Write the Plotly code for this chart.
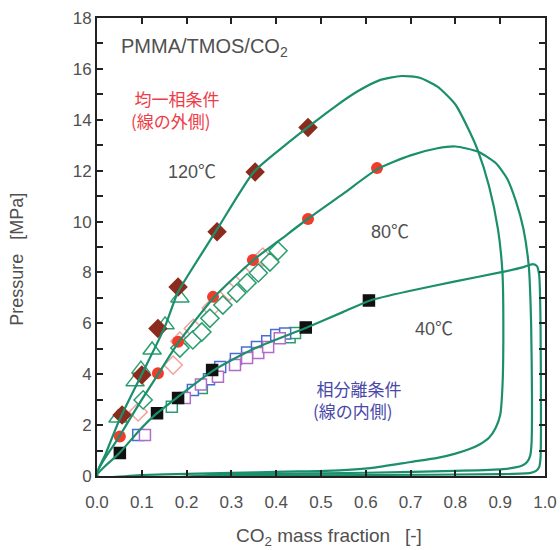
import plotly.graph_objects as go

# ---- model curves (closed loops) ----
c120_x = [0, 0.02, 0.05, 0.1, 0.15, 0.18, 0.2, 0.27, 0.35, 0.42, 0.47, 0.53, 0.58, 0.63, 0.68, 0.72, 0.76, 0.8, 0.83, 0.85, 0.875, 0.895, 0.905, 0.907, 0.905, 0.9, 0.89, 0.875, 0.855, 0.83, 0.8, 0.76, 0.7, 0.61, 0.51, 0.42, 0.3, 0.2, 0.1, 0]
c120_y = [0, 0.9, 2.2, 4.0, 5.8, 7.2, 7.8, 9.75, 11.95, 13.0, 13.7, 14.5, 15.1, 15.55, 15.72, 15.65, 15.3, 14.6, 13.6, 12.8, 11.4, 9.7, 8.0, 5.5, 3.5, 2.4, 1.9, 1.5, 1.25, 1.05, 0.88, 0.71, 0.55, 0.31, 0.2, 0.17, 0.12, 0.08, 0.04, 0]

c80_x = [0, 0.05, 0.1, 0.14, 0.18, 0.26, 0.35, 0.41, 0.47, 0.55, 0.625, 0.7, 0.76, 0.8, 0.85, 0.89, 0.915, 0.935, 0.952, 0.964, 0.969, 0.971, 0.97, 0.967, 0.96, 0.948, 0.906, 0.8, 0.705, 0.5, 0.3, 0]
c80_y = [0, 1.55, 3.0, 4.1, 5.2, 7.0, 8.5, 9.3, 10.1, 11.1, 12.05, 12.6, 12.88, 12.95, 12.75, 12.3, 11.7, 10.8, 9.7, 8.2, 6.0, 3.0, 1.3, 0.8, 0.55, 0.4, 0.27, 0.2, 0.16, 0.1, 0.07, 0]

c40_x = [0, 0.05, 0.1, 0.134, 0.18, 0.26, 0.35, 0.47, 0.55, 0.61, 0.7, 0.8, 0.9, 0.95, 0.973, 0.982, 0.987, 0.99, 0.991, 0.99, 0.987, 0.98, 0.968, 0.9, 0.6, 0.3, 0]
c40_y = [0, 0.9, 1.9, 2.47, 3.1, 4.15, 5.0, 5.85, 6.45, 6.9, 7.28, 7.65, 8.0, 8.2, 8.33, 8.25, 7.9, 6.0, 2.0, 0.7, 0.35, 0.2, 0.12, 0.07, 0.04, 0.02, 0]

# ---- experimental data ----
# 120 C
d120_dia_x = [0.056, 0.10, 0.136, 0.181, 0.268, 0.353, 0.471]
d120_dia_y = [2.4, 3.97, 5.8, 7.43, 9.6, 11.95, 13.7]
d120_tri_x = [0.047, 0.085, 0.098, 0.123, 0.152, 0.185]
d120_tri_y = [2.28, 3.7, 4.2, 4.95, 5.94, 7.0]

# 80 C
d80_cir_x = [0.051, 0.136, 0.181, 0.259, 0.348, 0.471, 0.625]
d80_cir_y = [1.55, 4.04, 5.28, 7.04, 8.49, 10.1, 12.1]
d80_pdia_x = [0.092, 0.17, 0.185, 0.215, 0.255, 0.295, 0.33, 0.37]
d80_pdia_y = [2.52, 4.36, 5.3, 5.8, 6.6, 7.25, 7.85, 8.6]
d80_gdia_x = [0.103, 0.185, 0.214, 0.234, 0.252, 0.281, 0.312, 0.335, 0.36, 0.386, 0.404]
d80_gdia_y = [2.99, 5.03, 5.35, 5.66, 6.2, 6.72, 7.19, 7.59, 7.98, 8.41, 8.85]

# 40 C
d40_blk_x = [0.051, 0.134, 0.181, 0.257, 0.466, 0.607]
d40_blk_y = [0.9, 2.47, 3.07, 4.17, 5.84, 6.9]
d40_blu_x = [0.092, 0.214, 0.25, 0.275, 0.31, 0.335, 0.357, 0.38, 0.40, 0.42]
d40_blu_y = [1.61, 3.38, 3.8, 4.28, 4.6, 4.85, 5.07, 5.3, 5.54, 5.6]
d40_pur_x = [0.107, 0.196, 0.232, 0.27, 0.308, 0.335, 0.36, 0.382, 0.408]
d40_pur_y = [1.61, 3.07, 3.6, 3.9, 4.36, 4.64, 4.83, 5.07, 5.41]
d40_grn_x = [0.167, 0.234, 0.43, 0.442]
d40_grn_y = [2.72, 3.46, 5.45, 5.62]

x_ticks = [0.0, 0.1, 0.2, 0.3, 0.4, 0.5, 0.6, 0.7, 0.8, 0.9, 1.0]
y_ticks = [0, 2, 4, 6, 8, 10, 12, 14, 16, 18]

GREEN = "#1b8f6c"
FONT = "Liberation Sans"
TXT = "#505050"
JFONT = "Noto Sans CJK JP"

fig = go.Figure()

def pts(x, y, symbol, size, fill, line_color, lw=1.5):
    fig.add_trace(go.Scatter(x=x, y=y, mode="markers",
                             marker=dict(symbol=symbol, size=size, color=fill,
                                         line=dict(color=line_color, width=lw)),
                             showlegend=False, hoverinfo="skip"))

# 40 C
pts(d40_grn_x, d40_grn_y, "square", 11, "white", "#2a9d6e")
pts(d40_blu_x, d40_blu_y, "square", 11, "white", "#4a6cd0")
pts(d40_pur_x, d40_pur_y, "square", 11, "white", "#b06cc8")
pts(d40_blk_x, d40_blk_y, "square", 11, "#111111", "#111111")
# 80 C
pts(d80_pdia_x, d80_pdia_y, "diamond", 14, "white", "#f4a19a")
pts(d80_gdia_x, d80_gdia_y, "diamond", 14, "white", "#2a9d6e")
pts(d80_cir_x, d80_cir_y, "circle", 12, "#f03c2c", "#f03c2c", 0)
# 120 C
pts(d120_tri_x, d120_tri_y, "triangle-up", 16, "white", "#2a9d6e")
pts(d120_dia_x, d120_dia_y, "diamond", 15, "#8b2b1e", "#8b2b1e", 0)

for cx, cy in [(c120_x, c120_y), (c80_x, c80_y), (c40_x, c40_y)]:
    fig.add_trace(go.Scatter(x=cx, y=cy, mode="lines",
                             line=dict(color=GREEN, width=2.2, shape="spline", smoothing=0.6),
                             showlegend=False, hoverinfo="skip"))

def txt(x, y, s, color=TXT, size=18, xanchor="center", family=FONT, align="center"):
    fig.add_annotation(x=x, y=y, text=s, showarrow=False, xanchor=xanchor, align=align,
                       font=dict(family=family + ", " + JFONT, size=size, color=color))

txt(0.05, 16.85, "PMMA/TMOS/CO<sub>2</sub>", xanchor="left", size=20)
txt(0.072, 14.4, "\u2009均一相条件<br>(線の外側)", color="#ee3c46", size=17,
    xanchor="left", family=JFONT, align="left")
txt(0.212, 11.95, "120℃")
txt(0.655, 9.6, "80℃")
txt(0.753, 5.78, "40℃")
txt(0.478, 3.0, "\u2009相分離条件<br>(線の内側)", color="#4848a8", size=17,
    xanchor="left", family=JFONT, align="left")

# axis titles
fig.add_annotation(xref="paper", yref="paper", x=0.518, y=0, yshift=-61, yanchor="middle",
                   text="CO<sub>2</sub> mass fraction \u2002[-]", showarrow=False,
                   font=dict(family=FONT, size=19, color=TXT))
fig.add_annotation(xref="paper", yref="paper", x=0, xshift=-80, xanchor="center",
                   y=0.472, yanchor="middle", textangle=-90,
                   text="Pressure \u2002[MPa]", showarrow=False,
                   font=dict(family=FONT, size=18, color=TXT))

axis_common = dict(showgrid=False, zeroline=False, showline=True, linecolor="#222222",
                   linewidth=2, mirror="ticks", ticks="inside", tickcolor="#222222",
                   ticklen=6, tickwidth=1.5, automargin=False,
                   tickfont=dict(family=FONT, size=17, color=TXT))

fig.update_xaxes(range=[0, 1.0], tickvals=x_ticks, ticktext=[f"{v:.1f}" for v in x_ticks],
                 ticklabelstandoff=10, **axis_common)
fig.update_yaxes(range=[0, 18], tickvals=y_ticks,
                 minor=dict(dtick=1, ticks="inside", ticklen=6, tickcolor="#222222"),
                 **axis_common)

fig.update_layout(width=560, height=550, plot_bgcolor="white", paper_bgcolor="white",
                  margin=dict(l=97, r=15, t=18, b=74), showlegend=False)

fig.write_html("out.html", config={"displayModeBar": False},
               post_script="document.body.style.margin='0';document.body.style.padding='0';")
